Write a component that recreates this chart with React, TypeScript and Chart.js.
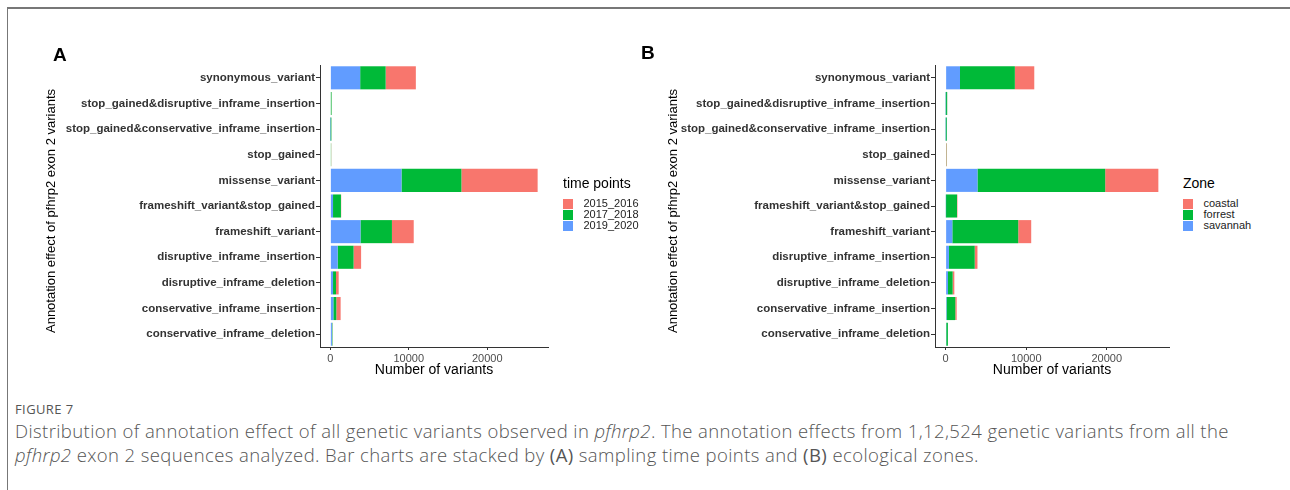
import React, { useEffect, useRef } from "react";
import { Chart, registerables } from "chart.js";
Chart.register(...registerables);

const categories = [
  "synonymous_variant",
  "stop_gained&disruptive_inframe_insertion",
  "stop_gained&conservative_inframe_insertion",
  "stop_gained",
  "missense_variant",
  "frameshift_variant&stop_gained",
  "frameshift_variant",
  "disruptive_inframe_insertion",
  "disruptive_inframe_deletion",
  "conservative_inframe_insertion",
  "conservative_inframe_deletion",
];

// Panel A: time points
const tp2015_2016 = [3850, 20, 10, 20, 9720, 30, 2780, 960, 340, 550, 20];
const tp2017_2018 = [3250, 90, 120, 100, 7640, 1010, 4010, 2030, 380, 380, 60];
const tp2019_2020 = [3800, 60, 10, 0, 9070, 340, 3840, 930, 340, 380, 200];

// Panel B: zones
const zoneCoastal = [2410, 10, 10, 70, 6600, 50, 1610, 340, 210, 170, 0];
const zoneForrest = [6810, 180, 140, 90, 15850, 1380, 8180, 3200, 580, 1080, 200];
const zoneSavannah = [1780, 10, 10, 0, 3950, 30, 830, 410, 290, 120, 80];

const xTickValues = [0, 10000, 20000];

const RED = "#F8766D";
const GREEN = "#00BA38";
const BLUE = "#619CFF";
const FONT = "'Liberation Sans', Arial, Helvetica, sans-serif";

type Series = { label: string; data: number[]; color: string };

function makeConfig(series: Series[], padLeft: number, yWidth: number, padRight: number): any {
  const totals = categories.map((_, i) => series.reduce((s, d) => s + d.data[i], 0));
  const maxTotal = Math.max(...totals);
  return {
    type: "bar",
    data: {
      labels: categories,
      datasets: series.map((s) => ({
        label: s.label,
        data: s.data,
        backgroundColor: s.color,
        borderWidth: 0,
        categoryPercentage: 1,
        barPercentage: 0.9,
      })),
    },
    options: {
      indexAxis: "y",
      animation: false,
      responsive: false,
      devicePixelRatio: 1,
      layout: { padding: { left: padLeft, top: 65, right: padRight, bottom: 0 } },
      plugins: { legend: { display: false }, tooltip: { enabled: false } },
      scales: {
        y: {
          type: "category",
          stacked: true,
          offset: true,
          afterFit: (s: any) => {
            s.width = yWidth;
          },
          grid: {
            display: true,
            offset: false,
            drawOnChartArea: false,
            drawTicks: true,
            tickLength: 4,
            color: "#333",
            lineWidth: 1,
          },
          border: { display: true, color: "#333", width: 1 },
          ticks: {
            autoSkip: false,
            padding: 1,
            color: "#333",
            font: { size: 11.5, weight: "bold", family: FONT },
          },
          title: { display: false },
        },
        x: {
          type: "linear",
          stacked: true,
          min: -0.05 * maxTotal,
          max: 1.05 * maxTotal,
          afterBuildTicks: (s: any) => {
            s.ticks = xTickValues.map((v) => ({ value: v }));
          },
          afterFit: (s: any) => {
            s.height = 33;
          },
          grid: {
            display: true,
            drawOnChartArea: false,
            drawTicks: true,
            tickLength: 3,
            color: "#333",
            lineWidth: 1,
          },
          border: { display: true, color: "#333", width: 1 },
          ticks: {
            padding: 2,
            maxRotation: 0,
            color: "#4d4d4d",
            font: { size: 11, family: FONT },
            callback: (v: any) => String(v),
          },
          title: {
            display: true,
            text: "Number of variants",
            color: "#000",
            padding: { top: 0, bottom: 1 },
            font: { size: 14, family: FONT },
          },
        },
      },
    },
  };
}

function Panel(props: { series: Series[]; left: number; padLeft: number; yWidth: number; padRight: number }) {
  const ref = useRef<HTMLCanvasElement | null>(null);
  useEffect(() => {
    if (!ref.current) return;
    const chart = new Chart(ref.current, makeConfig(props.series, props.padLeft, props.yWidth, props.padRight));
    return () => chart.destroy();
  }, []);
  return (
    <canvas
      ref={ref}
      width={560}
      height={380}
      style={{ position: "absolute", left: props.left, top: 0, width: 560, height: 380 }}
    />
  );
}

function YTitle(props: { cx: number; cy: number }) {
  return (
    <div
      style={{
        position: "absolute",
        left: props.cx,
        top: props.cy,
        transform: "translate(-50%, -50%) rotate(-90deg)",
        whiteSpace: "nowrap",
        fontFamily: FONT,
        fontSize: 13,
        lineHeight: "15px",
        color: "#000",
      }}
    >
      Annotation effect of pfhrp2 exon 2 variants
    </div>
  );
}

function Legend(props: { left: number; title: string; items: { label: string; color: string }[] }) {
  return (
    <div style={{ position: "absolute", left: props.left, top: 175, fontFamily: FONT, color: "#000" }}>
      <div style={{ fontSize: 14, lineHeight: "16px", marginBottom: 7 }}>{props.title}</div>
      {props.items.map((it) => (
        <div key={it.label} style={{ display: "flex", alignItems: "center", height: 11 }}>
          <div style={{ width: 9.5, height: 10, background: it.color }} />
          <div style={{ marginLeft: 11, fontSize: 11, lineHeight: "11px", color: "#222" }}>{it.label}</div>
        </div>
      ))}
    </div>
  );
}

export default function App() {
  const seriesA: Series[] = [
    { label: "2019_2020", data: tp2019_2020, color: BLUE },
    { label: "2017_2018", data: tp2017_2018, color: GREEN },
    { label: "2015_2016", data: tp2015_2016, color: RED },
  ];
  const seriesB: Series[] = [
    { label: "savannah", data: zoneSavannah, color: BLUE },
    { label: "forrest", data: zoneForrest, color: GREEN },
    { label: "coastal", data: zoneCoastal, color: RED },
  ];
  const capFont = "'Open Sans', 'Noto Sans', sans-serif";
  return (
    <div
      style={{
        position: "fixed",
        left: 0,
        top: 0,
        width: 1290,
        height: 490,
        background: "#fff",
        overflow: "hidden",
      }}
    >
      <div
        style={{
          position: "absolute",
          left: 7,
          top: 7,
          width: 1290,
          height: 490,
          borderTop: "2px solid #777",
          borderLeft: "1px solid #777",
        }}
      />
      <Panel series={seriesA} left={0} padLeft={41.6} yWidth={278.4} padRight={12} />
      <Panel series={seriesB} left={620} padLeft={43.6} yWidth={271.4} padRight={11} />
      <YTitle cx={50} cy={211} />
      <YTitle cx={672} cy={211} />
      <div style={{ position: "absolute", left: 53, top: 44, fontFamily: FONT, fontWeight: "bold", fontSize: 19 }}>A</div>
      <div style={{ position: "absolute", left: 641, top: 42, fontFamily: FONT, fontWeight: "bold", fontSize: 19 }}>B</div>
      <Legend
        left={563}
        title="time points"
        items={[
          { label: "2015_2016", color: RED },
          { label: "2017_2018", color: GREEN },
          { label: "2019_2020", color: BLUE },
        ]}
      />
      <Legend
        left={1183}
        title="Zone"
        items={[
          { label: "coastal", color: RED },
          { label: "forrest", color: GREEN },
          { label: "savannah", color: BLUE },
        ]}
      />
      <div
        style={{
          position: "absolute",
          left: 15,
          top: 400,
          fontFamily: capFont,
          fontSize: 13,
          color: "#555",
          letterSpacing: 0.4,
        }}
      >
        FIGURE 7
      </div>
      <div
        style={{
          position: "absolute",
          left: 15,
          top: 419,
          width: 1275,
          fontFamily: capFont,
          fontSize: 18.5,
          lineHeight: "24px",
          color: "#555",
          fontWeight: 300,
          letterSpacing: 0.4,
          whiteSpace: "nowrap",
        }}
      >
        Distribution of annotation effect of all genetic variants observed in <i>pfhrp2</i>. The annotation effects
        from 1,12,524 genetic variants from all the
        <br />
        <i>pfhrp2</i> exon 2 sequences analyzed. Bar charts are stacked by <b>(A)</b> sampling time points and{" "}
        <b>(B)</b> ecological zones.
      </div>
    </div>
  );
}
